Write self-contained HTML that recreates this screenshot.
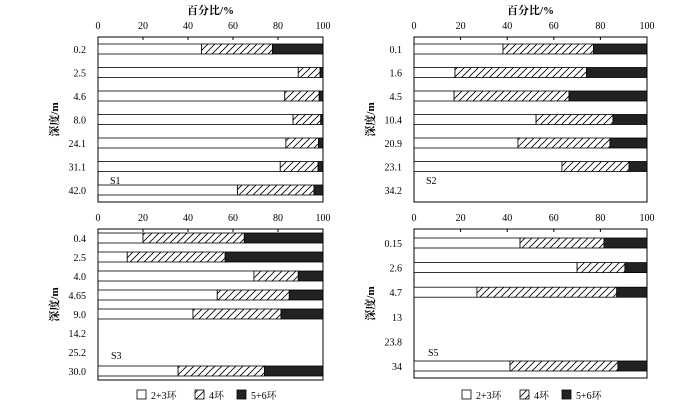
<!DOCTYPE html>
<html><head><meta charset="utf-8"><style>
body{margin:0;background:#fff;}
svg{display:block;font-family:"Liberation Serif","Noto Serif CJK SC",serif;}
</style></head><body>
<svg id="c" width="700" height="404" viewBox="0 0 700 404">
<defs><pattern id="hatch" width="7" height="7" patternUnits="userSpaceOnUse" patternTransform="rotate(0)">
<rect width="7" height="7" fill="#fff"/><path d="M-1,8 L8,-1 M-8,8 L1,-1" stroke="#000" stroke-width="0.8" transform="translate(0,0)"/><path d="M6,8 L15,-1" stroke="#000" stroke-width="0.8"/></pattern></defs>
</svg>
<script>
const s1Depths=["0.2","2.5","4.6","8.0","24.1","31.1","42.0"];
const s1Low=[46,89,83,86.7,83.5,81,62];
const s1Mid=[31.5,9.7,15.3,12.3,14.5,16.8,34];
const s2Depths=["0.1","1.6","4.5","10.4","20.9","23.1","34.2"];
const s2Low=[38.2,17.6,17.2,52.4,44.6,63.5,null];
const s2Mid=[38.8,56.4,49.3,33,39.5,28.8,null];
const s3Depths=["0.4","2.5","4.0","4.65","9.0","14.2","25.2","30.0"];
const s3Low=[20,13,69.3,53,42.2,null,null,35.6];
const s3Mid=[45,43.5,19.7,32,39.1,null,null,38.4];
const s5Depths=["0.15","2.6","4.7","13","23.8","34"];
const s5Low=[45.5,70,27,null,null,41.2];
const s5Mid=[36,20.5,60,null,null,46.3];
const xTicks=[0,20,40,60,80,100];

const NS="http://www.w3.org/2000/svg";
const svg=document.getElementById('c');
function mk(tag,attrs,parent){const e=document.createElementNS(NS,tag);for(const k in attrs)e.setAttribute(k,attrs[k]);(parent||svg).appendChild(e);return e;}

function panel(name,depths,low,mid,x0,x1,top,bottom,rowStart,rowStep,labelPos,showTitle){
  const g=mk('g',{});
  
  
  const xs=v=>x0+(x1-x0)*v/100;
  const ys=i=>rowStart+i*rowStep;
  const fr=mk('rect',{x:x0,y:top,width:x1-x0,height:bottom-top,fill:'none',stroke:'#000','stroke-width':1},g);
  
  
  xTicks.forEach(t=>{
    const tl=mk('text',{x:xs(t),y:top-8,'text-anchor':'middle','font-size':10},g);tl.textContent=t;
    
    
    if(t>0&&t<100){const tk=mk('line',{x1:xs(t),x2:xs(t),y1:top,y2:top+3,stroke:'#000'},g);
      
      }
  });
  if(showTitle){const tt=mk('text',{x:(x0+x1)/2,y:14,'text-anchor':'middle','font-size':11,'font-weight':'bold'},g);tt.textContent='百分比/%';
    
    }
  const yt=mk('text',{x:0,y:0,'text-anchor':'middle','font-size':11,'font-weight':'bold',transform:`translate(${x0-40},${(top+bottom)/2}) rotate(-90)`},g);yt.textContent='深度/m';
  
  
  depths.forEach((d,i)=>{
    const y=ys(i);
    const l=mk('text',{x:x0-12,y:y+4,'text-anchor':'end','font-size':10},g);l.textContent=d;
    
    
    if(low[i]==null)return;
    const a=low[i],b=low[i]+mid[i];
    const segs=[[0,a,'#fff','bar-2-3-ring'],[a,b,'url(#hatch)','bar-4-ring'],[b,100,'#222','bar-5-6-ring']];
    segs.forEach(s=>{const r=mk('rect',{x:xs(s[0]),y:y-5,width:xs(s[1])-xs(s[0]),height:10,fill:s[2],stroke:'#000','stroke-width':0.8},g);
      
      });
  });
  const pl=mk('text',{x:labelPos[0],y:labelPos[1],'font-size':10},g);pl.textContent=name;
  
  
}
panel('S1',s1Depths,s1Low,s1Mid,98,323,37,202,49,23.5,[110,184],true);
panel('S2',s2Depths,s2Low,s2Mid,414,647,37,202,49,23.5,[426,184],true);
panel('S3',s3Depths,s3Low,s3Mid,98,323,229,380,238,19,[111,359],false);
panel('S5',s5Depths,s5Low,s5Mid,414,647,229,378,243,24.6,[428,356],false);

function legend(bx){
  const g=mk('g',{});
  
  
  const items=[[0,'#fff','2+3环'],[58,'url(#hatch)','4环'],[100,'#222','5+6环']];
  items.forEach(it=>{
    const r=mk('rect',{x:bx+it[0],y:390,width:9,height:9,fill:it[1],stroke:'#000','stroke-width':0.8},g);
    
    
    const t=mk('text',{x:bx+it[0]+14,y:399,'font-size':10},g);t.textContent=it[2];
    
    
  });
}
legend(137);legend(462);
</script>
</body></html>
